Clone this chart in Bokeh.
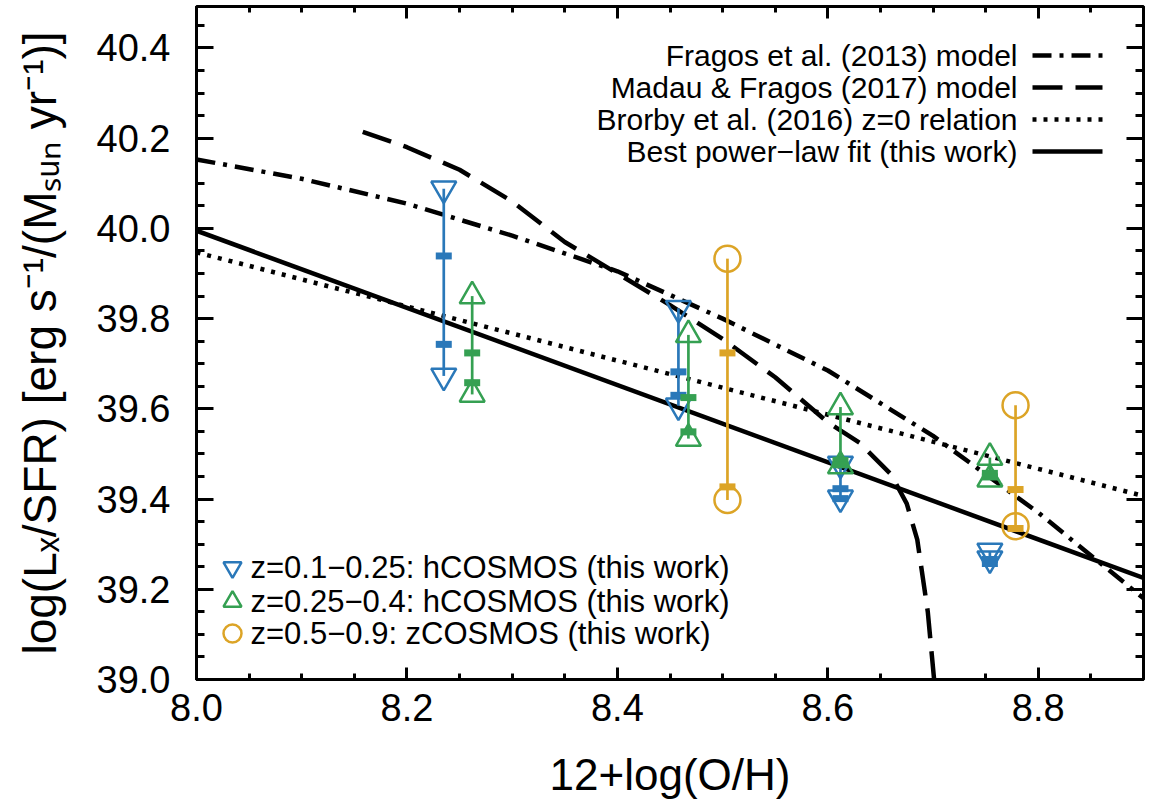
from bokeh.plotting import figure
from bokeh.models import LinearAxis, SingleIntervalTicker, PrintfTickFormatter, CustomJSTickFormatter, Label
from bokeh.embed import file_html
from bokeh.resources import INLINE

# ---------------- data ----------------
fit_x = [8.0, 8.9]
fit_y = [39.995, 39.225]
brorby_x = [8.0, 8.9]
brorby_y = [39.947, 39.407]
fragos_x = [8.0, 8.1, 8.2, 8.3, 8.4, 8.5, 8.6, 8.7, 8.8, 8.9]
fragos_y = [40.153, 40.11, 40.055, 39.984, 39.905, 39.80, 39.685, 39.54, 39.37, 39.18]
madau_x = [8.158, 8.2, 8.25, 8.3, 8.35, 8.4, 8.45, 8.5, 8.55, 8.6, 8.63, 8.66, 8.675, 8.685, 8.695, 8.701, 8.705]
madau_y = [40.214, 40.18, 40.13, 40.06, 39.97, 39.90, 39.83, 39.755, 39.67, 39.57, 39.525, 39.455, 39.39, 39.31, 39.15, 39.0, 38.9]

blue_x = [8.235, 8.458, 8.612, 8.754]
blue_hi = [40.088, 39.823, 39.478, 39.285]
blue_lo = [39.673, 39.607, 39.403, 39.268]
blue_bar_hi = [39.939, 39.682, 39.423, 39.266]
blue_bar_lo = [39.743, 39.630, 39.401, 39.257]

green_x = [8.262, 8.4675, 8.612, 8.754]
green_hi = [39.850, 39.764, 39.604, 39.492]
green_lo = [39.632, 39.534, 39.473, 39.444]
green_bar_hi = [39.724, 39.625, 39.486, 39.457]
green_bar_lo = [39.658, 39.549, 39.476, 39.449]

yellow_x = [8.5046, 8.7784]
yellow_hi = [39.933, 39.608]
yellow_lo = [39.398, 39.340]
yellow_bar_hi = [39.724, 39.421]
yellow_bar_lo = [39.427, 39.335]

line_labels = ["Fragos et al. (2013) model", "Madau & Fragos (2017) model",
               "Brorby et al. (2016) z=0 relation", "Best power\u2212law fit (this work)"]
point_labels = ["z=0.1\u22120.25: hCOSMOS (this work)", "z=0.25\u22120.4: hCOSMOS (this work)",
                "z=0.5\u22120.9: zCOSMOS (this work)"]

BLUE = "#2a78b9"
GREEN = "#35a052"
YELLOW = "#dca426"
FONT = "Liberation Sans"

XMIN, XMAX = 8.0, 8.9
YMIN, YMAX = 39.0, 40.492

# layout (canvas pixels) used to place the legends
FL, FR, FT, FB = 196, 1143, 6, 679


def dx(px):
    return XMIN + (px - FL) / (FR - FL) * (XMAX - XMIN)


def dy(py):
    return YMAX - (py - FT) / (FB - FT) * (YMAX - YMIN)


p = figure(frame_width=FR - FL, frame_height=FB - FT,
           min_border_left=FL, min_border_top=FT, min_border_right=2, min_border_bottom=112,
           x_range=(XMIN, XMAX), y_range=(YMIN, YMAX),
           output_backend="svg", toolbar_location=None, tools="")
p.background_fill_color = "white"
p.border_fill_color = "white"
p.grid.visible = False
p.outline_line_color = "black"
p.outline_line_width = 3

for ax in (p.xaxis[0], p.yaxis[0]):
    ax.ticker = SingleIntervalTicker(interval=0.2, num_minor_ticks=4)
    ax.formatter = PrintfTickFormatter(format="%.1f")
    ax.axis_line_color = None
    ax.major_tick_out = 0
    ax.minor_tick_out = 0
    ax.major_tick_line_width = 3
    ax.minor_tick_line_width = 3
    ax.major_label_text_font = FONT
    ax.major_label_text_font_size = "38px"
    ax.major_label_text_color = "black"
    ax.axis_label_text_font = FONT
    ax.axis_label_text_font_style = "normal"
    ax.axis_label_text_color = "black"

p.xaxis[0].axis_label_text_font_size = "44px"
p.yaxis[0].axis_label_text_font_size = "46px"
p.xaxis[0].major_tick_in = 12
p.xaxis[0].minor_tick_in = 6
p.yaxis[0].major_tick_in = 17
p.yaxis[0].minor_tick_in = 8
p.xaxis[0].major_label_standoff = 14
p.yaxis[0].major_label_standoff = 26
p.xaxis[0].axis_label = "12+log(O/H)"
p.yaxis[0].axis_label = "log(L\u2093/SFR) [erg s\u207b\u00b9/(M\u209b\u1d64\u2099 yr\u207b\u00b9)]"
p.xaxis[0].axis_label_standoff = 26
p.yaxis[0].axis_label_standoff = 28

blank = CustomJSTickFormatter(code="return ''")
top = LinearAxis(ticker=SingleIntervalTicker(interval=0.2, num_minor_ticks=4), formatter=blank,
                 axis_line_color=None, major_tick_in=12, major_tick_out=0, minor_tick_in=6, minor_tick_out=0,
                 major_tick_line_width=3, minor_tick_line_width=3, major_label_standoff=0)
right = LinearAxis(ticker=SingleIntervalTicker(interval=0.2, num_minor_ticks=4), formatter=blank,
                   axis_line_color=None, major_tick_in=17, major_tick_out=0, minor_tick_in=8, minor_tick_out=0,
                   major_tick_line_width=3, minor_tick_line_width=3, major_label_standoff=0)
p.add_layout(top, "above")
p.add_layout(right, "right")

# ---------------- model curves ----------------
LW = 4.5
p.line(fragos_x, fragos_y, line_color="black", line_width=LW, line_dash="19 8 4 8")
p.line(madau_x, madau_y, line_color="black", line_width=LW, line_dash="30 13")
p.line(brorby_x, brorby_y, line_color="black", line_width=LW, line_dash="4 7")
p.line(fit_x, fit_y, line_color="black", line_width=LW)


# ---------------- data ----------------
def series(xs, hi, lo, bhi, blo, color, marker, size):
    p.segment(x0=xs, y0=hi, x1=xs, y1=lo, line_color=color, line_width=2.7)
    p.scatter(xs, hi, marker=marker, size=size, fill_color=None, line_color=color, line_width=2.5)
    p.scatter(xs, lo, marker=marker, size=size, fill_color=None, line_color=color, line_width=2.5)
    for b in (bhi, blo):
        p.rect(xs, b, width=16, height=7, width_units="screen", height_units="screen",
               fill_color=color, line_color=None)


series(blue_x, blue_hi, blue_lo, blue_bar_hi, blue_bar_lo, BLUE, "inverted_triangle", 25)
series(green_x, green_hi, green_lo, green_bar_hi, green_bar_lo, GREEN, "triangle", 25)
series(yellow_x, yellow_hi, yellow_lo, yellow_bar_hi, yellow_bar_lo, YELLOW, "circle", 26)

# ---------------- legend: lines (top right) ----------------
line_rows = [55, 87, 119, 151]
dashes = ["19 8 4 8", "30 13", "4 7", "solid"]
for row, lab, dash in zip(line_rows, line_labels, dashes):
    p.add_layout(Label(x=dx(1017), y=dy(row), text=lab, text_align="right", text_baseline="middle",
                       text_font=FONT, text_font_size="30px", text_color="black"))
    p.segment(x0=[dx(1032)], y0=[dy(row)], x1=[dx(1102)], y1=[dy(row)], line_color="black",
              line_width=LW, line_dash=dash)

# ---------------- legend: points (bottom left) ----------------
pt_rows = [567, 601, 633]
pt_markers = ["inverted_triangle", "triangle", "circle"]
pt_colors = [BLUE, GREEN, YELLOW]
for row, lab, mk, col in zip(pt_rows, point_labels, pt_markers, pt_colors):
    p.scatter([dx(232)], [dy(row)], marker=mk, size=18, fill_color=None, line_color=col, line_width=2.5)
    p.add_layout(Label(x=dx(250), y=dy(row), text=lab, text_align="left", text_baseline="middle",
                       text_font=FONT, text_font_size="31px", text_color="black"))

open("out.html", "w").write(file_html(p, INLINE))
